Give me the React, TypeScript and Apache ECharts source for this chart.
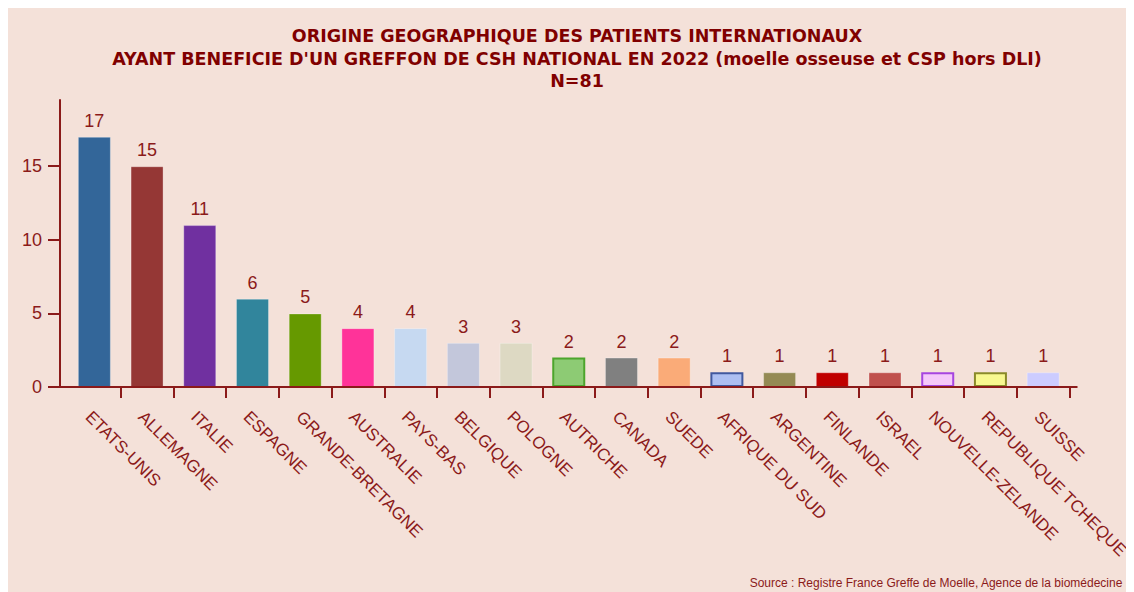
import React, { useEffect, useRef } from "react";
import * as echarts from "echarts";

const titleLines = [
  "ORIGINE GEOGRAPHIQUE DES PATIENTS INTERNATIONAUX",
  "AYANT BENEFICIE D'UN GREFFON DE CSH NATIONAL EN 2022 (moelle osseuse et CSP hors DLI)",
  "N=81",
];
const sourceText = "Source : Registre France Greffe de Moelle, Agence de la biomédecine";

const categories = [
  "ETATS-UNIS", "ALLEMAGNE", "ITALIE", "ESPAGNE", "GRANDE-BRETAGNE", "AUSTRALIE",
  "PAYS-BAS", "BELGIQUE", "POLOGNE", "AUTRICHE", "CANADA", "SUEDE",
  "AFRIQUE DU SUD", "ARGENTINE", "FINLANDE", "ISRAEL", "NOUVELLE-ZELANDE",
  "REPUBLIQUE TCHEQUE", "SUISSE",
];
const values = [17, 15, 11, 6, 5, 4, 4, 3, 3, 2, 2, 2, 1, 1, 1, 1, 1, 1, 1];
const fillColors = [
  "#336699", "#953735", "#7030A0", "#31859C", "#669900", "#FF3399",
  "#C6D9F1", "#C3C7DB", "#DDD9C3", "#8DCB74", "#808080", "#FAAB78",
  "#ADBFF2", "#948A54", "#C00000", "#C0504D", "#F5C8FA", "#F8F890", "#CCCCFF",
];
const borderColors = [
  "", "", "", "", "", "", "", "", "", "#4CA52C", "", "",
  "#41589E", "", "", "", "#A645E0", "#8A8A2A", "",
];
const yTicks = [0, 5, 10, 15];

const DARK = "#8B1A1A";
const TITLE = "#800000";
const BG = "#F4E1D9";
const FONT = "'Liberation Sans', Arial, sans-serif";

export default function App() {
  const ref = useRef<HTMLDivElement>(null);
  useEffect(() => {
    document.documentElement.style.overflow = "hidden";
    document.body.style.overflow = "hidden";
    if (!ref.current) return;
    const chart = echarts.init(ref.current, null, { renderer: "svg" });
    chart.setOption({
      animation: false,
      backgroundColor: BG,
      title: {
        text: titleLines.join("\n"),
        left: 564,
        textAlign: "center",
        top: 12,
        padding: 5,
        textStyle: {
          fontFamily: "'DejaVu Sans', sans-serif",
          fontWeight: "bold",
          fontSize: 17.5,
          lineHeight: 22.5,
          color: TITLE,
        },
      },
      grid: { left: 60, width: 1001.5, top: 92, bottom: 205 },
      xAxis: {
        type: "category",
        data: categories,
        boundaryGap: true,
        axisLine: { show: false },
        axisTick: {
          show: true,
          length: 11,
          interval: (i: number) => i !== 0,
          lineStyle: { color: DARK, width: 2 },
        },
        axisLabel: {
          interval: 0,
          rotate: -45,
          margin: 21,
          verticalAlign: "top",
          fontSize: 17,
          fontFamily: FONT,
          color: DARK,
        },
      },
      yAxis: {
        type: "value",
        min: 0,
        max: 19.5,
        offset: 8,
        splitLine: { show: false },
        axisLine: { show: true, lineStyle: { color: DARK, width: 2 } },
        axisTick: {
          show: true,
          length: 12,
          customValues: yTicks,
          lineStyle: { color: DARK, width: 2 },
        },
        axisLabel: {
          customValues: yTicks,
          margin: 18,
          fontSize: 18,
          fontFamily: FONT,
          color: DARK,
        },
      },
      series: [
        {
          type: "bar",
          barWidth: 33,
          data: values.map((v, i) => ({
            value: v,
            itemStyle: {
              color: fillColors[i],
              borderColor: borderColors[i] || "rgba(255,255,255,0.3)",
              borderWidth: borderColors[i] ? 2 : 1,
            },
          })),
          label: {
            show: true,
            position: "top",
            distance: 7,
            fontSize: 18,
            fontFamily: FONT,
            color: DARK,
          },
        },
      ],
      graphic: [
        {
          id: "source",
          type: "text",
          right: 11,
          bottom: 3,
          style: {
            text: sourceText,
            fontSize: 12,
            fontFamily: FONT,
            fill: DARK,
          },
        },
      ],
    });
    const y0 = chart.convertToPixel({ yAxisIndex: 0 }, 0) as number;
    const xFirst = chart.convertToPixel({ xAxisIndex: 0 }, 0) as number;
    const xLast = chart.convertToPixel({ xAxisIndex: 0 }, categories.length - 1) as number;
    const half = (xLast - xFirst) / (categories.length - 1) / 2;
    chart.setOption({
      graphic: [
        {
          id: "xaxisline",
          type: "line",
          shape: { x1: xFirst - half - 9, y1: y0, x2: xLast + half + 8, y2: y0 },
          style: { stroke: DARK, lineWidth: 2 },
          z: 10,
        },
      ],
    });
    return () => chart.dispose();
  }, []);
  return <div ref={ref} style={{ width: "calc(100vw - 8px)", height: "calc(100vh - 8px)" }} />;
}
